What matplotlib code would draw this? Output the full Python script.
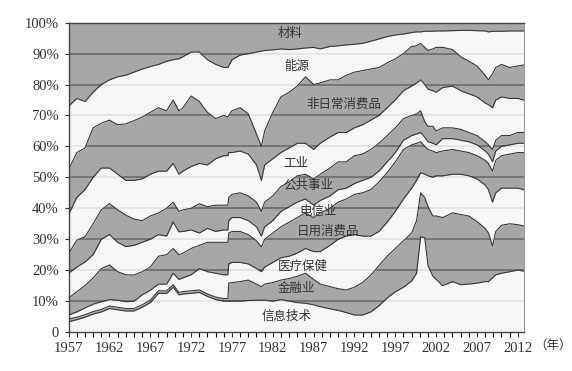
import numpy as np
import matplotlib.pyplot as plt

plt.rcParams['font.family'] = ['Liberation Serif', 'DejaVu Serif']

years = [1957, 1958, 1959, 1960, 1961, 1962, 1963, 1964, 1965, 1966, 1967, 1968, 1969, 1969.8,
         1970.5, 1971, 1972, 1973, 1974, 1975, 1976, 1976.5, 1976.6, 1977, 1978, 1979, 1980, 1980.6,
         1981, 1982, 1983, 1984, 1985, 1986, 1987, 1987.8, 1989, 1990, 1991, 1992, 1993, 1994,
         1995, 1996, 1997, 1998, 1999, 1999.6, 2000.1, 2000.6, 2001, 2001.6, 2002, 2002.8, 2004,
         2005, 2006, 2007, 2008, 2008.4, 2008.9, 2009.3, 2010, 2011, 2012, 2012.7]

# upper edge (cumulative %) of each sector, from the bottom band upwards
it_top = [3.3, 4.0, 4.8, 5.8, 6.5, 7.6, 7.2, 6.8, 6.8, 8.0, 9.5, 12.5, 12.5, 14.5,
          12.0, 12.3, 12.5, 12.8, 11.5, 10.5, 10.0, 10.0, 10.0, 10.0, 10.0, 10.2, 10.3, 10.3,
          10.3, 10.0, 10.5, 10.0, 9.5, 9.3, 8.8, 8.2, 7.5, 7.0, 6.3, 5.5, 5.5, 6.5,
          8.5, 11.0, 13.0, 14.5, 16.5, 19.0, 30.8, 30.5, 21.5, 18.0, 17.0, 15.0, 16.3,
          15.3, 15.5, 15.8, 16.3, 16.3, 17.5, 18.5, 19.0, 19.5, 20.0, 19.7]
fin_top = [4.2, 4.8, 5.6, 6.6, 7.3, 8.4, 8.0, 7.6, 7.6, 8.8, 10.3, 13.3, 13.3, 15.3,
           12.8, 13.1, 13.3, 13.6, 12.3, 11.3, 10.8, 10.8, 15.8, 16.0, 16.3, 16.8, 15.5, 14.7,
           15.5, 16.0, 16.8, 17.3, 18.0, 19.0, 17.0, 15.5, 14.7, 14.0, 13.6, 14.5, 16.0, 18.4,
           21.5, 24.5, 27.0, 29.5, 32.0, 36.0, 45.0, 43.5, 40.5, 37.5, 37.5, 37.0, 38.5,
           38.0, 37.5, 35.7, 33.5, 32.0, 27.8, 32.5, 34.5, 35.0, 34.7, 34.3]
hc_top = [5.5, 6.5, 7.8, 9.0, 9.8, 10.5, 10.3, 9.8, 10.0, 12.0, 13.5, 15.5, 15.5, 19.0,
          17.0, 17.5, 18.5, 20.5, 19.5, 19.0, 18.5, 18.5, 22.0, 22.5, 22.5, 22.0, 20.5, 19.5,
          21.0, 22.5, 24.0, 24.5, 25.5, 27.0, 26.0, 26.0, 28.0, 30.0, 31.0, 31.5, 31.0, 31.0,
          32.5, 35.5, 39.0, 43.0, 46.5, 49.0, 51.5, 51.0, 50.5, 50.0, 50.5, 50.5, 51.0,
          51.0, 50.5, 49.5, 47.5, 46.0, 42.0, 45.0, 46.5, 46.5, 46.5, 46.0]
staples_top = [11.0, 13.0, 15.0, 17.5, 20.5, 21.7, 19.5, 18.5, 18.4, 19.5, 21.0, 24.5, 25.0, 27.0,
               25.0, 25.5, 27.0, 28.0, 29.0, 29.0, 29.0, 29.0, 32.0, 32.5, 32.5, 31.5, 29.5, 27.5,
               30.0, 32.0, 34.0, 35.5, 37.0, 38.5, 37.0, 38.5, 40.0, 42.0, 43.0, 44.5, 45.0, 46.0,
               48.5, 51.5, 55.0, 59.0, 60.5, 61.0, 61.5, 60.0, 59.0, 58.5, 58.0, 58.5, 59.0,
               58.5, 58.0, 57.0, 55.5, 54.5, 52.0, 55.5, 57.0, 57.5, 58.0, 58.0]
telecom_top = [19.0, 21.0, 22.6, 25.0, 30.0, 31.5, 29.0, 27.6, 28.0, 29.0, 30.0, 31.5, 31.0, 35.6,
               32.4, 32.5, 33.0, 32.0, 33.5, 32.5, 33.0, 33.0, 36.0, 37.0, 37.0, 36.0, 34.0, 31.0,
               34.0, 36.0, 39.0, 40.5, 42.0, 43.0, 41.0, 42.5, 44.0, 46.0, 46.5, 48.0, 49.0, 50.0,
               52.0, 55.0, 58.0, 62.0, 63.5, 64.0, 64.5, 63.0, 61.5, 61.0, 60.5, 62.5, 62.5,
               62.0, 61.5, 60.5, 58.5, 57.5, 55.0, 58.5, 60.0, 60.5, 61.0, 61.0]
util_top = [25.4, 29.7, 30.8, 35.0, 39.5, 41.5, 39.5, 37.8, 36.5, 36.0, 37.5, 38.5, 40.0, 42.0,
            39.0, 39.5, 40.0, 41.5, 40.5, 41.0, 41.0, 41.0, 43.5, 44.5, 45.0, 44.0, 42.0, 39.0,
            42.0, 44.0, 47.0, 48.5, 50.5, 51.0, 49.5, 51.0, 53.0, 55.0, 55.0, 57.0, 57.5, 59.0,
            61.0, 63.5, 66.0, 69.0, 70.0, 70.5, 71.5, 68.0, 66.5, 66.5, 65.0, 66.0, 66.0,
            65.5, 64.5, 63.5, 61.5, 60.5, 59.0, 62.0, 63.5, 63.5, 64.5, 64.5]
indus_top = [38.0, 43.5, 46.0, 50.0, 53.0, 53.0, 51.0, 49.0, 49.0, 49.5, 51.0, 52.0, 52.0, 54.5,
             51.0, 52.0, 53.5, 54.5, 54.0, 56.0, 57.0, 57.0, 58.0, 58.0, 58.5, 57.5, 54.0, 49.0,
             54.0, 56.0, 58.0, 59.5, 61.0, 61.0, 59.0, 61.0, 63.0, 64.5, 64.5, 66.0, 67.0, 68.5,
             70.0, 72.5, 75.0, 78.0, 79.5, 80.5, 81.5, 80.0, 78.5, 78.0, 77.5, 79.0, 79.5,
             78.0, 77.0, 76.0, 74.0, 73.5, 72.5, 75.0, 76.0, 75.5, 75.5, 75.0]
discr_top = [52.5, 58.0, 59.5, 66.0, 67.5, 68.5, 67.0, 67.3, 68.3, 69.5, 71.0, 72.5, 71.5, 75.0,
             71.5, 72.5, 76.3, 74.5, 71.0, 69.0, 70.0, 69.5, 70.0, 71.5, 72.5, 70.5, 64.0, 60.0,
             65.0, 71.0, 76.0, 77.5, 79.5, 82.5, 80.0, 80.5, 81.5, 81.5, 83.0, 84.0, 84.5, 85.0,
             85.5, 87.0, 88.3, 90.0, 92.3, 92.5, 93.3, 92.0, 91.0, 91.5, 92.0, 92.0, 91.3,
             89.0, 87.5, 86.0, 83.0, 81.5, 83.5, 85.5, 86.5, 85.5, 86.0, 86.3]
energy_top = [73.0, 75.5, 74.5, 77.5, 80.0, 81.5, 82.5, 83.0, 84.0, 85.0, 85.8, 86.5, 87.5, 88.0,
              88.3, 89.0, 90.5, 90.5, 88.0, 86.5, 85.5, 85.5, 86.0, 88.0, 89.5, 90.0, 90.5, 90.8,
              91.0, 91.2, 91.5, 91.3, 91.5, 91.8, 92.0, 91.5, 92.3, 92.5, 92.8, 93.0, 93.3, 94.0,
              94.7, 95.5, 96.0, 96.3, 96.8, 97.0, 97.0, 97.2, 97.2, 97.2, 97.3, 97.3, 97.4,
              97.5, 97.5, 97.4, 97.3, 97.0, 97.2, 97.2, 97.2, 97.3, 97.3, 97.3]

sectors = ['信息技术', '金融业', '医疗保健', '日用消费品', '电信业',
           '公共事业', '工业', '非日常消费品', '能源', '材料']
label_x = [1983.7, 1984.9, 1985.7, 1988.8, 1987.5, 1986.4, 1984.8, 1990.7, 1984.9, 1984.1]
label_y = [4.9, 14.1, 21.3, 32.7, 38.9, 47.5, 54.6, 73.7, 85.8, 96.6]

fig = plt.figure(figsize=(5.72, 3.71), dpi=100)
ax = fig.add_axes([0.12, 0.105, 0.796, 0.834])

x = np.array(years)
edges = [np.zeros(len(x)), it_top, fin_top, hc_top, staples_top, telecom_top,
         util_top, indus_top, discr_top, energy_top, np.full(len(x), 100.0)]

# grid sits under the bands; grey bands let it show through, white ones mostly hide it
for g in range(10, 100, 10):
    ax.axhline(g, color='#262626', lw=1.1, zorder=1)

for i in range(10):
    if i % 2 == 0:
        ax.fill_between(x, edges[i], edges[i + 1], color='#f5f5f5', alpha=0.9, lw=0, zorder=2)
    else:
        ax.fill_between(x, edges[i], edges[i + 1], color='#828282', alpha=0.7, lw=0, zorder=2)

for e in edges[1:-1]:
    ax.plot(x, e, color='#383838', lw=0.8, zorder=3)

for name, lx, ly in zip(sectors, label_x, label_y):
    ax.text(lx, ly, name, ha='center', va='center', fontsize=9, color='#333333',
            family=['Noto Sans CJK SC', 'DejaVu Sans'], zorder=4)

ax.set_xlim(1957, 2012.75)
ax.set_ylim(0, 100)
ax.set_yticks(range(0, 101, 10))
ax.set_yticklabels(['0'] + ['%d%%' % v for v in range(10, 101, 10)])
ax.set_xticks(range(1957, 2013, 5))
ax.set_xticks(range(1957, 2013), minor=True)
ax.tick_params(axis='both', labelsize=10.5, colors='#333333', direction='out')
ax.tick_params(axis='x', which='both', length=3.5, width=0.8, pad=4)
ax.tick_params(axis='y', length=3, width=0.8, pad=4)

for s in ['left', 'bottom', 'top']:
    ax.spines[s].set_color('#444444')
    ax.spines[s].set_linewidth(1.0)
ax.spines['right'].set_color('#9a9a9a')

fig.text(0.934, 0.07, '（年）', ha='left', va='center', fontsize=9,
         family=['Noto Sans CJK SC', 'DejaVu Sans'], color='#333333')

fig.savefig('out.png', dpi=100)
